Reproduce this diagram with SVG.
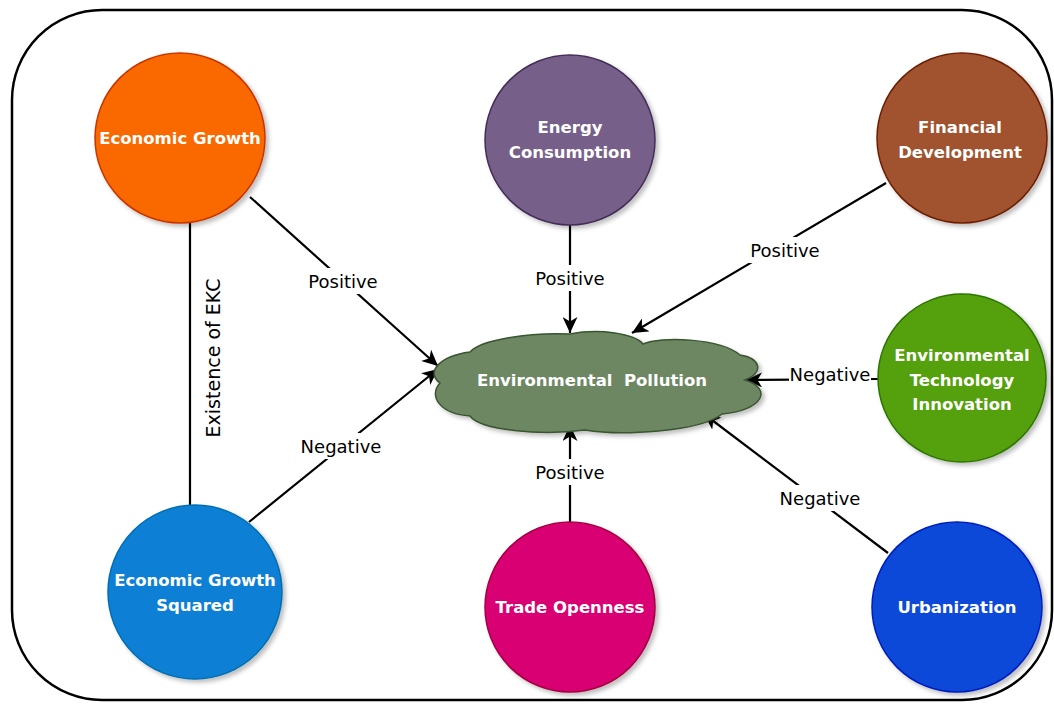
<svg xmlns="http://www.w3.org/2000/svg" width="1054" height="704" viewBox="0 0 1054 704">
<style>
.node text{font-family:"DejaVu Sans",sans-serif;font-weight:bold;font-size:16.5px;fill:#fff;text-anchor:middle}
.node circle{stroke-width:1.5;filter:url(#sh)}
.edge{stroke:#000;stroke-width:2.2;fill:none}
.arr{marker-end:url(#ah)}
.lbl text{font-family:"DejaVu Sans",sans-serif;font-size:18px;fill:#000;text-anchor:middle}
.lbl rect{fill:#fff}
</style>
<defs>
<filter id="sh" x="-20%" y="-20%" width="140%" height="140%">
<feDropShadow dx="3" dy="3" stdDeviation="2" flood-color="#000" flood-opacity="0.25"/>
</filter>
<marker id="ah" markerUnits="userSpaceOnUse" markerWidth="17" markerHeight="15" refX="16" refY="7.5" orient="auto">
<path d="M0,0 L16,7.5 L0,15 L4.5,7.5 Z" fill="#000"/>
</marker>
</defs>
<rect x="12" y="10" width="1040" height="690" rx="90" ry="90" fill="#fff" stroke="#000" stroke-width="2.5"/>
<g id="connectors">
<line class="edge" x1="190" y1="223" x2="190" y2="508"/>
<line class="edge arr" x1="250" y1="197" x2="438" y2="366"/>
<line class="edge arr" x1="249" y1="522" x2="438" y2="369"/>
<line class="edge arr" x1="570" y1="225" x2="570" y2="333"/>
<line class="edge arr" x1="886" y1="183" x2="632" y2="333"/>
<line class="edge arr" x1="878" y1="379" x2="746" y2="380"/>
<line class="edge arr" x1="570" y1="522" x2="570" y2="425"/>
<line class="edge arr" x1="888" y1="553" x2="704" y2="414"/>
<g class="lbl">
<rect x="304" y="268" width="78" height="26"/><text x="343" y="288">Positive</text>
<rect x="298" y="433" width="86" height="26"/><text x="341" y="453">Negative</text>
<rect x="531" y="265" width="78" height="26"/><text x="570" y="285">Positive</text>
<rect x="746" y="237" width="78" height="26"/><text x="785" y="257">Positive</text>
<rect x="789" y="362" width="82" height="24"/><text x="830" y="381">Negative</text>
<rect x="531" y="459" width="78" height="26"/><text x="570" y="479">Positive</text>
<rect x="777" y="485" width="86" height="26"/><text x="820" y="505">Negative</text>
<text transform="translate(220,358) rotate(-90)" x="0" y="0" style="font-size:19px">Existence of EKC</text>
</g>
</g>
<g id="pollution" class="node">
<path d="M440,383 C425,372 440,356 470,352 C480,340 530,332 570,334 C600,328 635,334 643,344 C660,336 720,338 740,355 C760,358 765,372 745,380 C772,388 765,410 722,414 C700,432 620,436 585,430 C540,436 480,430 470,416 C440,414 428,396 440,383 Z" fill="#6d8764" stroke="#3a5431" stroke-width="1.5" filter="url(#sh)"/>
<text x="592" y="386" xml:space="preserve">Environmental  Pollution</text>
</g>
<g id="economic-growth" class="node">
<circle cx="180" cy="138" r="85" fill="#fa6800" stroke="#c73500"/>
<text x="180" y="144">Economic Growth</text>
</g>
<g id="energy" class="node">
<circle cx="570" cy="140" r="85" fill="#76608a" stroke="#432d57"/>
<text x="570" y="133">Energy</text>
<text x="570" y="158">Consumption</text>
</g>
<g id="financial" class="node">
<circle cx="962" cy="138" r="85" fill="#a0522d" stroke="#6d1f00"/>
<text x="960" y="133">Financial</text>
<text x="960" y="158">Development</text>
</g>
<g id="eti" class="node">
<circle cx="962" cy="378" r="84" fill="#55a00f" stroke="#2d7600"/>
<text x="962" y="361">Environmental</text>
<text x="962" y="386">Technology</text>
<text x="962" y="410">Innovation</text>
</g>
<g id="egs" class="node">
<circle cx="195" cy="592" r="87" fill="#0b80d5" stroke="#006eaf"/>
<text x="195" y="586">Economic Growth</text>
<text x="195" y="611">Squared</text>
</g>
<g id="trade" class="node">
<circle cx="570" cy="607" r="85" fill="#d80073" stroke="#a50040"/>
<text x="570" y="613">Trade Openness</text>
</g>
<g id="urban" class="node">
<circle cx="957" cy="607" r="85" fill="#0a48d8" stroke="#001dbc"/>
<text x="957" y="613">Urbanization</text>
</g>
</svg>
